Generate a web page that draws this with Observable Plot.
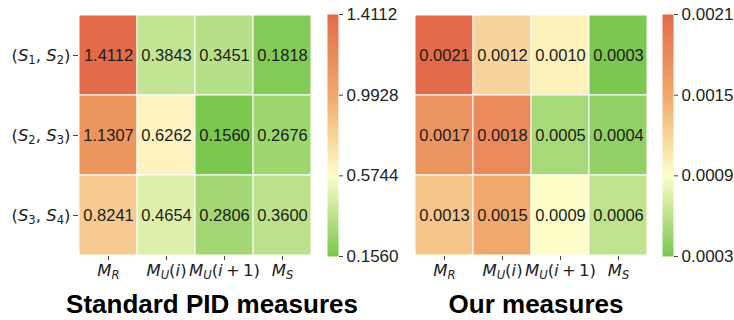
<!DOCTYPE html>
<html>
<head>
<meta charset="utf-8">
<script src="https://cdn.jsdelivr.net/npm/d3@7"></script>
<script src="https://cdn.jsdelivr.net/npm/@observablehq/plot@0.6"></script>
<style>
  html, body { margin: 0; padding: 0; background: #fff; }
  #chart { position: relative; width: 734px; height: 320px; overflow: hidden; }
  #chart > * { position: absolute; top: 0; }
  .title { font-family: "Liberation Sans", Arial, sans-serif; font-weight: bold; font-size: 26px; line-height: 26px; color: #000; white-space: nowrap; transform: translateX(-50%); }
</style>
</head>
<body>
<div id="chart"></div>
<script>
// ---- data ----
const rowLabels = ["(S_1, S_2)", "(S_2, S_3)", "(S_3, S_4)"];
const colLabels = ["M_R", "M_U(i)", "M_U(i+1)", "M_S"];
const stdValues = [
  [1.4112, 0.3843, 0.3451, 0.1818],
  [1.1307, 0.6262, 0.1560, 0.2676],
  [0.8241, 0.4654, 0.2806, 0.3600]
];
const ourValues = [
  [0.0021, 0.0012, 0.0010, 0.0003],
  [0.0017, 0.0018, 0.0005, 0.0004],
  [0.0013, 0.0015, 0.0009, 0.0006]
];
const stdTicks = [0.1560, 0.5744, 0.9928, 1.4112];
const ourTicks = [0.0003, 0.0009, 0.0015, 0.0021];
const panelTitles = ["Standard PID measures", "Our measures"];
const colorStops = ["#7bc74f", "#fefecb", "#f0a96a", "#e36b4a"];

const interp = d3.piecewise(d3.interpolateRgb, colorStops);
const chart = document.getElementById("chart");

function toTable(values) {
  const out = [];
  rowLabels.forEach((r, i) => colLabels.forEach((c, j) => out.push({row: r, col: c, value: values[i][j]})));
  return out;
}

// convert "M_U(i+1)" style labels into tspans (letters italic, "_x" subscript)
function mathify(textNode) {
  const s = textNode.textContent;
  const sel = d3.select(textNode);
  sel.text(null);
  let shifted = false;
  const shift = 0.28; // em
  for (let k = 0; k < s.length; k++) {
    let ch = s[k];
    let sub = false;
    if (ch === "_") { sub = true; k++; ch = s[k]; }
    const t = sel.append("tspan").text(ch === "+" ? "\u2009+\u2009" : ch);
    if (/[A-Za-z]/.test(ch)) t.attr("font-style", "italic");
    if (sub) {
      t.attr("font-size", "0.7em");
      if (!shifted) { t.attr("dy", shift + "em"); shifted = true; }
    } else if (shifted) {
      t.attr("dy", (-shift * 0.7) + "em");
      shifted = false;
    }
  }
}

function heatmap(values, ticks, opts) {
  const [lo, hi] = [ticks[0], ticks[ticks.length - 1]];
  const color = {type: "linear", domain: [lo, hi], interpolate: interp};
  const yScale = {domain: rowLabels, padding: 0, label: null};
  if (!opts.showY) yScale.axis = null;
  const plot = Plot.plot({
    width: opts.width, height: 290,
    marginLeft: opts.marginLeft, marginRight: 0, marginTop: 14, marginBottom: 34,
    style: {fontFamily: "'DejaVu Sans', sans-serif", fontSize: "16px", color: "#222", background: "transparent"},
    x: {domain: colLabels, padding: 0, label: null},
    y: yScale,
    color,
    marks: [
      Plot.cell(toTable(values), {x: "col", y: "row", fill: "value", stroke: "white", strokeWidth: 1}),
      Plot.text(toTable(values), {x: "col", y: "row", text: d => d.value.toFixed(4), fontSize: 16.5, fill: "#1c1c1c",
        fontFamily: "'Liberation Sans', Arial, sans-serif"}),
      Plot.axisX({tickSize: 4, tickPadding: 4, stroke: "#444", fontSize: 16.5}),
      opts.showY ? Plot.axisY({tickSize: 5, tickPadding: 3, stroke: "#444", fontSize: 16.5}) : null
    ]
  });
  plot.querySelectorAll('g[aria-label="x-axis tick label"] text, g[aria-label="y-axis tick label"] text').forEach(mathify);
  plot.style.left = opts.left + "px";
  chart.appendChild(plot);

  const bar = Plot.plot({
    width: 80, height: 290,
    marginLeft: 0, marginRight: 69, marginTop: 14, marginBottom: 34,
    style: {fontFamily: "'Liberation Sans', Arial, sans-serif", fontSize: "17px", color: "#222", background: "transparent", overflow: "visible"},
    x: {domain: [0, 1], axis: null},
    y: {domain: [lo, hi]},
    color,
    marks: [
      Plot.raster({x1: 0, x2: 1, y1: lo, y2: hi, fill: (x, y) => y}),
      Plot.axisY({anchor: "right", ticks, tickFormat: d3.format(".4f"), tickSize: 4, tickPadding: 4, stroke: "#444", label: null, fontSize: 17})
    ]
  });
  bar.style.left = opts.barLeft + "px";
  chart.appendChild(bar);

  const title = document.createElement("div");
  title.className = "title";
  title.textContent = opts.title;
  title.style.left = opts.titleX + "px";
  title.style.top = "291px";
  chart.appendChild(title);
}

heatmap(stdValues, stdTicks, {width: 312, marginLeft: 78, left: 0, showY: true, barLeft: 327, title: panelTitles[0], titleX: 212});
heatmap(ourValues, ourTicks, {width: 245, marginLeft: 10, left: 403, showY: false, barLeft: 662, title: panelTitles[1], titleX: 536});
</script>
</body>
</html>
